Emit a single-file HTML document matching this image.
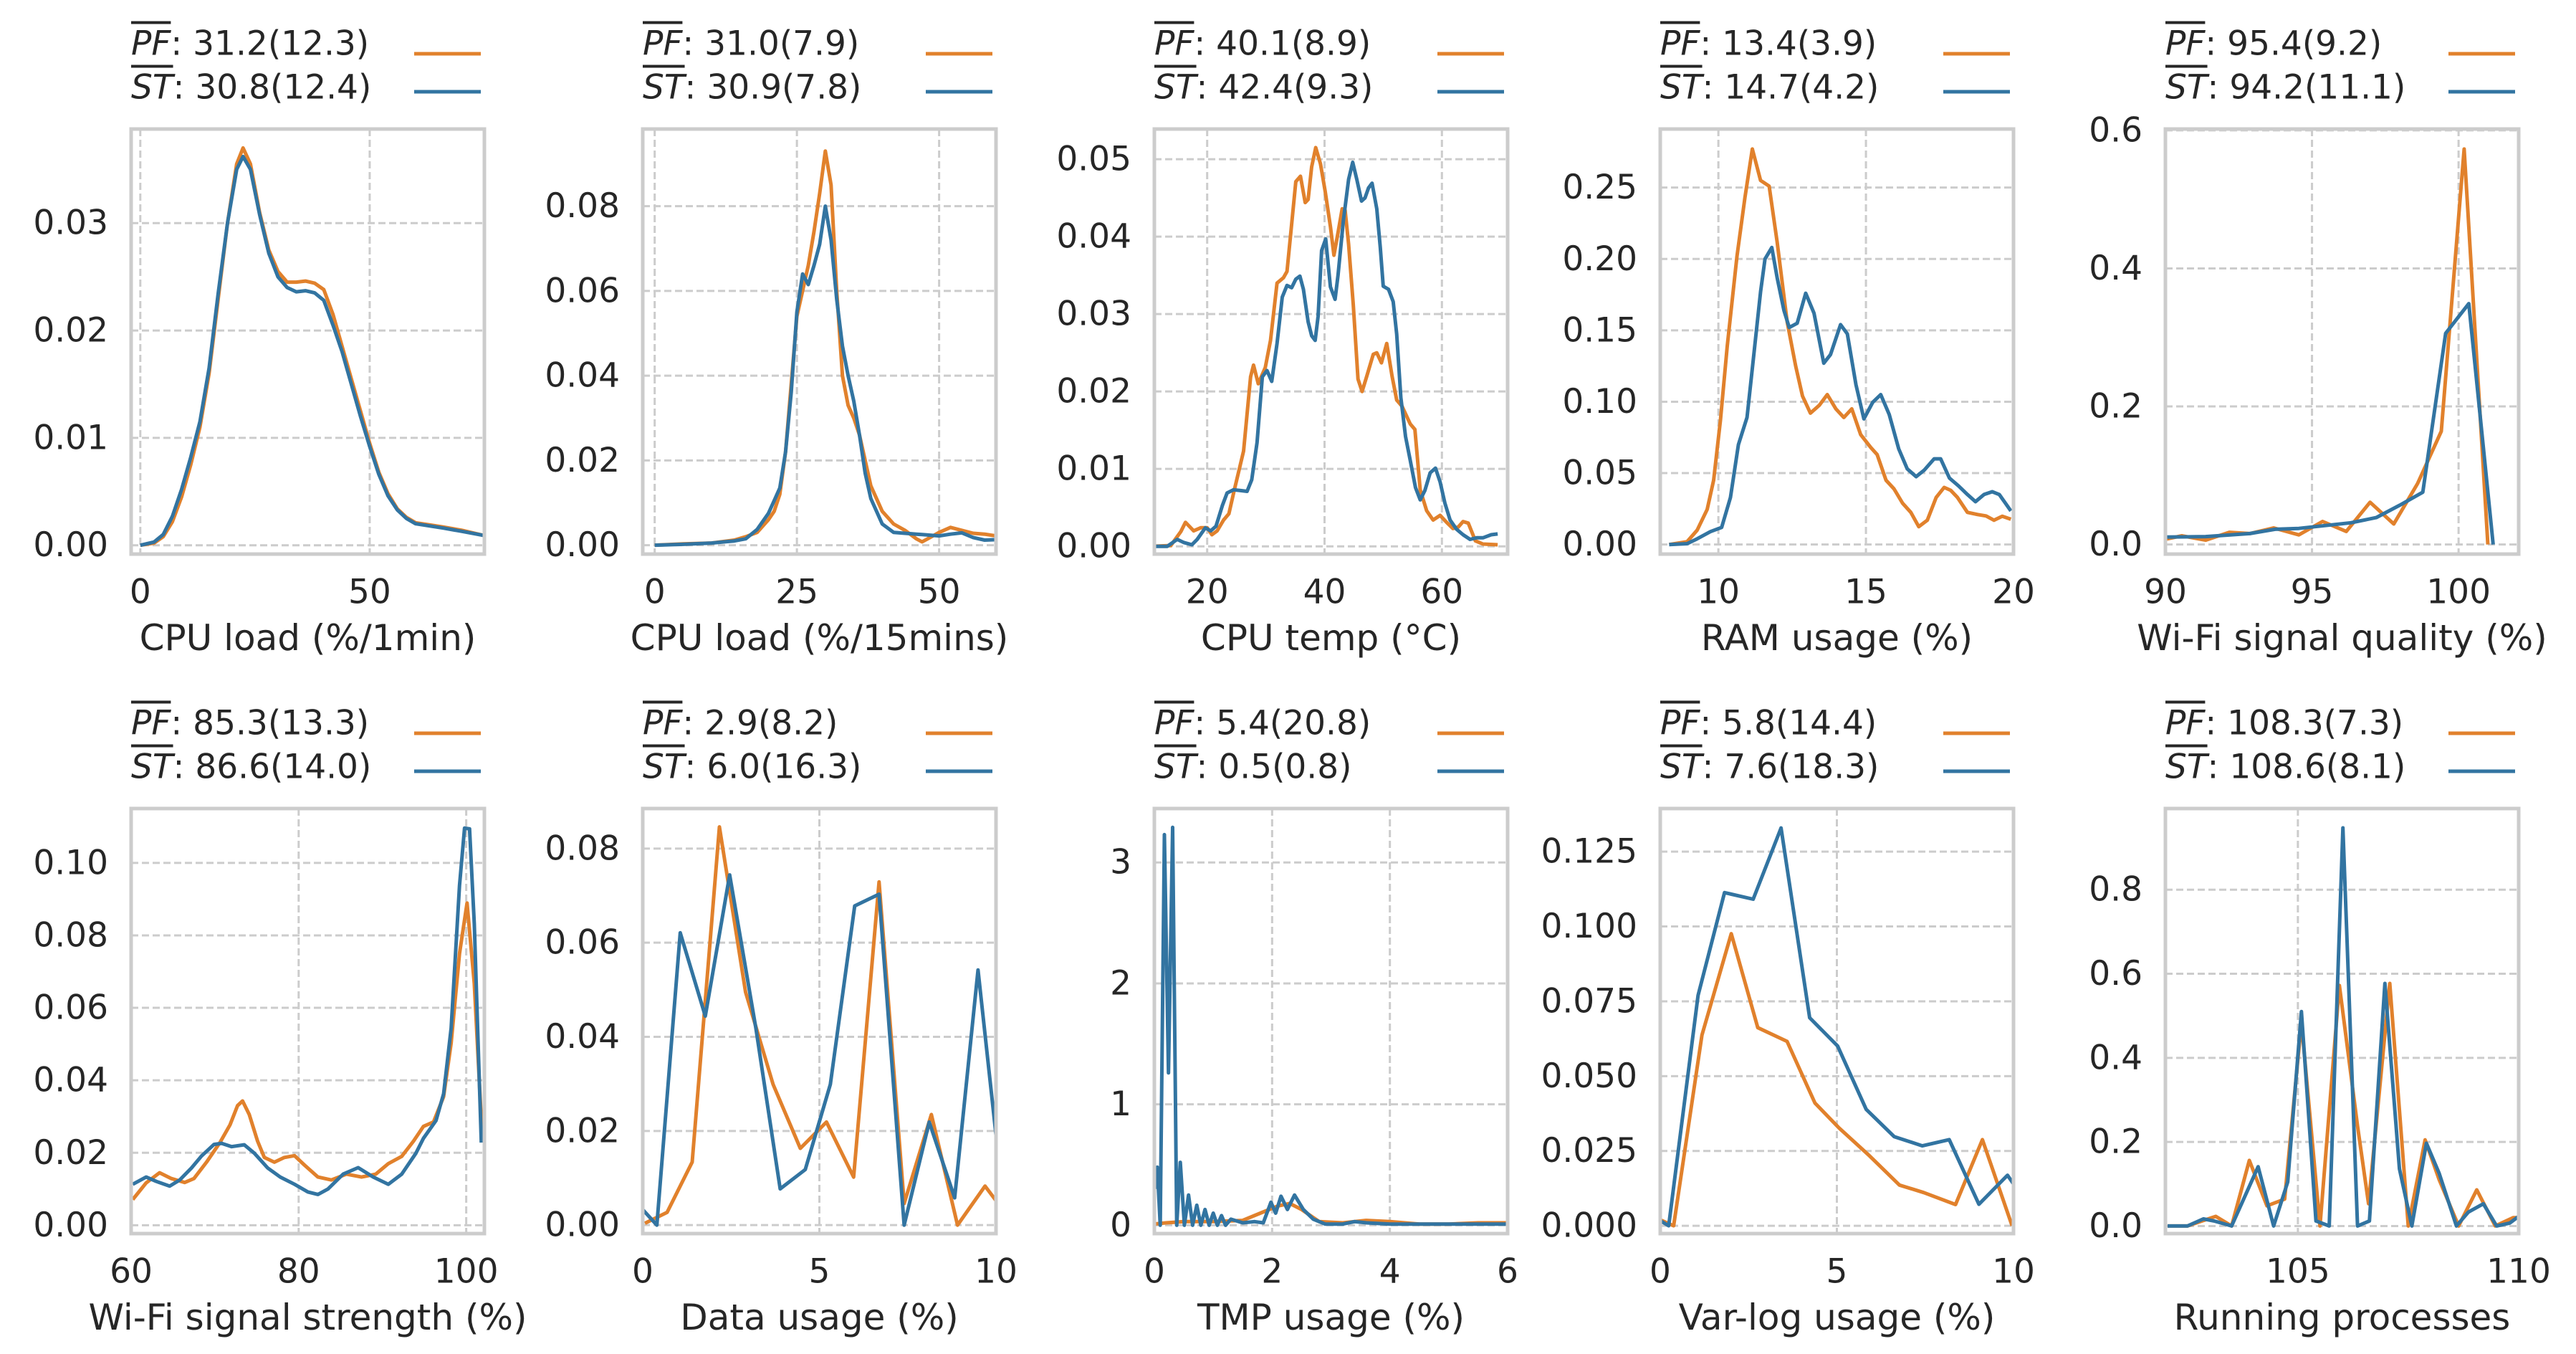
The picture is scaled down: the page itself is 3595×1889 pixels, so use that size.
<!DOCTYPE html>
<html><head><meta charset="utf-8"><style>
body{margin:0;background:#fff;}
#wrap{position:relative;width:3595px;height:1889px;overflow:hidden;font-family:"DejaVu Sans","Liberation Sans",sans-serif;color:#262626;}
svg{position:absolute;left:0;top:0;}
.leg{position:absolute;font-size:47px;line-height:1;white-space:nowrap;transform:translateY(-50%);}
.ov{text-decoration:overline;font-style:italic;}
</style></head><body>
<div id="wrap">
<svg id="fig" width="3595" height="1889" xmlns="http://www.w3.org/2000/svg"></svg>
</div>
<script>
const cpu1X = [0,3,5,7,9,11,13,15,17,19,21,22.4,24,26,28,30,32,34,36,38,40,42,44,46,48,50,52,54,56,58,60,63,66,70,75];
const cpu1PF = [0,0.0002,0.0008,0.0022,0.0045,0.0075,0.011,0.016,0.023,0.030,0.0355,0.037,0.0355,0.031,0.0275,0.0255,0.0245,0.0245,0.0246,0.0244,0.0238,0.0215,0.0185,0.0155,0.0125,0.0095,0.0068,0.0048,0.0034,0.0026,0.0021,0.0019,0.0017,0.0014,0.0009];
const cpu1ST = [0,0.0003,0.001,0.0027,0.0052,0.0082,0.0115,0.0165,0.0235,0.030,0.035,0.0362,0.035,0.0308,0.0272,0.025,0.0240,0.0236,0.0237,0.0235,0.0228,0.0205,0.018,0.015,0.012,0.0092,0.0066,0.0046,0.0033,0.0025,0.002,0.0018,0.0016,0.0013,0.0009];
const cpu15X = [0,5,10,14,16,18,20,21,22,23,24,25,26,27,28,29,30,31,32,33,34,35,36,37,38,40,42,44,46,47,48,50,52,54,56,58,60];
const cpu15PF = [0,0.0003,0.0005,0.0012,0.002,0.003,0.006,0.008,0.012,0.022,0.038,0.054,0.060,0.066,0.074,0.083,0.093,0.085,0.06,0.040,0.033,0.030,0.026,0.020,0.014,0.008,0.005,0.0035,0.0015,0.0008,0.0015,0.003,0.0042,0.0035,0.0028,0.0026,0.0022];
const cpu15ST = [0,0.0002,0.0005,0.001,0.0015,0.0037,0.0075,0.0105,0.0135,0.022,0.036,0.055,0.064,0.0615,0.066,0.071,0.080,0.072,0.058,0.047,0.040,0.034,0.026,0.017,0.011,0.005,0.003,0.0028,0.0026,0.0025,0.0024,0.0022,0.0026,0.0029,0.0018,0.0012,0.0013];
const tempPFX = [10.4,13.8,15.5,16.3,17.7,18.9,20,20.8,21.7,22.8,23.7,24.5,26.2,27.4,27.9,28.7,29.9,30.8,31.9,33.0,33.6,34.2,35.1,35.9,36.7,37.2,37.8,38.5,39.3,40.1,41.0,41.6,42.3,43.0,43.5,44.1,44.9,45.7,46.4,47.2,48.3,48.9,49.7,50.6,51.5,52.3,53.2,54.6,55.4,56.3,57.4,58.5,59.7,60.8,61.9,62.8,63.6,64.5,65.7,67.0,69.5];
const tempPFY = [0,0.0001,0.0019,0.0031,0.002,0.0024,0.0024,0.0015,0.002,0.0034,0.0042,0.0069,0.0123,0.0219,0.0234,0.021,0.0231,0.0266,0.034,0.0347,0.0355,0.0401,0.0471,0.0478,0.0444,0.0448,0.049,0.0515,0.0494,0.0459,0.0413,0.0376,0.0405,0.0436,0.0434,0.039,0.0312,0.0216,0.0200,0.0220,0.0248,0.025,0.0237,0.0262,0.022,0.0189,0.0181,0.0158,0.0151,0.0073,0.0046,0.0034,0.004,0.0031,0.0023,0.0025,0.0032,0.003,0.0007,0.0003,0.0002];
const tempSTX = [10.4,13.2,14.9,16.0,17.4,18.3,19.7,20.6,21.5,22.6,23.4,24.5,25.7,26.8,27.6,28.5,29.4,30.2,31.0,31.9,32.8,33.6,34.4,35.1,35.8,36.4,37.2,37.8,38.4,38.9,39.5,40.2,41.0,41.8,42.3,43.2,44.1,44.8,45.5,46.3,46.9,47.5,48.1,48.9,49.5,50.0,50.9,51.7,52.3,53.0,53.8,54.6,55.5,56.3,57.1,58.0,58.9,59.7,60.5,61.4,62.5,63.6,64.8,65.9,67.0,68.4,69.5];
const tempSTY = [0,0,0.0009,0.0005,0.0002,0.0009,0.0024,0.002,0.0026,0.0053,0.0069,0.0073,0.0072,0.0071,0.0086,0.0134,0.0219,0.0227,0.0213,0.0262,0.0322,0.0337,0.0334,0.0345,0.0349,0.0332,0.029,0.0272,0.0266,0.0297,0.0382,0.0397,0.0335,0.0319,0.035,0.042,0.0474,0.0496,0.0474,0.0446,0.045,0.0463,0.0469,0.0436,0.0386,0.0336,0.0332,0.0316,0.0274,0.0192,0.0142,0.0111,0.0076,0.006,0.0072,0.0095,0.0101,0.0083,0.0056,0.0034,0.0022,0.0015,0.0009,0.0011,0.0011,0.0015,0.0016];
const ramPFX = [8.33,8.94,9.28,9.62,9.84,10.07,10.3,10.63,10.9,11.15,11.43,11.72,11.99,12.33,12.62,12.85,13.12,13.42,13.69,13.98,14.25,14.52,14.82,15.16,15.38,15.68,15.95,16.24,16.52,16.79,17.08,17.38,17.65,17.87,18.1,18.44,18.78,19.07,19.34,19.62,19.91];
const ramPFY = [0,0.002,0.01,0.0246,0.045,0.087,0.139,0.202,0.243,0.277,0.255,0.251,0.212,0.156,0.125,0.104,0.092,0.0975,0.105,0.095,0.089,0.095,0.077,0.068,0.063,0.045,0.039,0.029,0.0225,0.0125,0.017,0.033,0.040,0.038,0.033,0.0225,0.021,0.02,0.017,0.0198,0.0177];
const ramSTX = [8.33,8.94,9.28,9.73,10.11,10.41,10.68,10.97,11.2,11.43,11.58,11.81,11.99,12.22,12.4,12.67,12.96,13.24,13.57,13.8,14.14,14.37,14.66,14.93,15.23,15.5,15.79,16.11,16.4,16.7,16.97,17.31,17.53,17.83,18.14,18.44,18.71,19.0,19.28,19.52,19.91];
const ramSTY = [0,0.0006,0.004,0.009,0.012,0.033,0.070,0.089,0.133,0.177,0.2,0.208,0.187,0.164,0.152,0.155,0.176,0.162,0.127,0.133,0.154,0.1475,0.112,0.088,0.0996,0.105,0.091,0.067,0.053,0.0475,0.052,0.06,0.06,0.0465,0.041,0.035,0.030,0.035,0.037,0.035,0.0235];
const wqPFX = [90,90.56,91.37,92.18,92.88,93.69,94.55,95.36,96.17,96.98,97.79,98.6,99.41,100.19,101.0];
const wqPFY = [0.0076,0.0126,0.0063,0.0177,0.0158,0.024,0.0139,0.0334,0.0189,0.0612,0.0297,0.0883,0.164,0.573,0];
const wqSTX = [90,91.37,92.88,93.74,94.55,96.33,97.19,97.99,98.78,99.56,100.35,101.18];
const wqSTY = [0.0107,0.0114,0.0158,0.022,0.0233,0.0315,0.039,0.0568,0.0757,0.306,0.349,0];
const wsPFX = [60.2,61.8,63.4,64.8,66.4,67.5,69.0,70.6,71.8,72.7,73.3,74.1,75.1,75.9,77.1,78.3,79.5,80.7,82.3,83.9,85.7,87.5,89.2,90.7,92.3,93.7,94.9,96.1,97.3,98.2,99.2,100.1,100.96,101.9];
const wsPFY = [0.0071,0.0117,0.0145,0.0129,0.0118,0.0129,0.0174,0.0228,0.0277,0.033,0.0343,0.0306,0.0232,0.0187,0.0174,0.0187,0.0192,0.0166,0.0133,0.0125,0.0141,0.0133,0.0141,0.017,0.019,0.0232,0.0273,0.0285,0.0355,0.0503,0.075,0.0889,0.0667,0.0248];
const wsSTX = [60.2,61.8,63.0,64.6,65.8,67.2,68.4,69.9,70.8,72.0,73.5,74.7,76.3,77.8,79.5,81.1,82.3,83.5,85.3,87.1,88.9,90.7,92.3,94.0,94.9,96.4,97.3,98.2,99.2,99.8,100.4,100.96,101.8];
const wsSTY = [0.0113,0.0133,0.0121,0.0108,0.0125,0.0158,0.0191,0.0223,0.0226,0.0217,0.0222,0.0199,0.0158,0.0133,0.0113,0.0092,0.0085,0.01,0.0141,0.0159,0.0133,0.0113,0.0141,0.0199,0.024,0.0289,0.0363,0.0544,0.0938,0.1096,0.1094,0.0832,0.0228];
const duPFX = [0.06,0.69,1.4,2.17,2.91,3.69,4.46,5.2,5.97,6.69,7.4,8.17,8.91,9.69,10];
const duPFY = [0.0004,0.0027,0.0134,0.0846,0.0495,0.0299,0.0163,0.0219,0.0102,0.0729,0.0046,0.0235,0,0.0083,0.0052];
const duSTX = [0,0.4,1.06,1.77,2.46,3.2,3.89,4.6,5.31,6.0,6.69,7.4,8.11,8.83,9.49,10];
const duSTY = [0.0033,0,0.0621,0.0444,0.0744,0.0419,0.0077,0.0118,0.0299,0.0678,0.0703,0,0.0219,0.0058,0.0542,0.0191];
const tmpPFX = [0,0.2,0.5,1.0,1.5,1.8,2.1,2.3,2.5,2.8,3.2,3.6,4.0,4.5,5.0,5.5,6.0];
const tmpPFY = [0.01,0.02,0.03,0.03,0.04,0.1,0.16,0.18,0.13,0.03,0.02,0.04,0.03,0.01,0.01,0.02,0.02];
const tmpSTX = [0.02,0.05,0.1,0.17,0.24,0.31,0.38,0.44,0.51,0.58,0.65,0.72,0.79,0.86,0.93,1.0,1.07,1.14,1.21,1.3,1.5,1.7,1.85,1.98,2.06,2.15,2.26,2.38,2.53,2.7,2.9,3.2,3.4,3.6,4.0,4.5,5.0,6.0];
const tmpSTY = [0.3,0.48,0,3.23,1.26,3.29,0,0.52,0,0.25,0,0.165,0,0.13,0,0.1,0,0.08,0,0.05,0.02,0.03,0.02,0.19,0.1,0.24,0.13,0.25,0.13,0.05,0.01,0.01,0.03,0.02,0.01,0.01,0.01,0.01];
const vlPFX = [0,0.38,1.18,2.01,2.76,3.59,4.38,5.06,5.92,6.77,7.46,8.36,9.12,9.96];
const vlPFY = [0.002,0,0.0637,0.0976,0.0662,0.0616,0.041,0.0327,0.0234,0.0136,0.0111,0.0071,0.0288,0];
const vlSTX = [0,0.24,1.07,1.82,2.63,3.42,4.23,5.02,5.83,6.62,7.42,8.18,9.02,9.83,10];
const vlSTY = [0.0017,0,0.077,0.1113,0.1091,0.1329,0.0695,0.0601,0.0389,0.0298,0.0267,0.0288,0.0072,0.0169,0.014];
const rpPFX = [102.05,102.5,102.83,103.14,103.5,103.9,104.3,104.7,105.08,105.5,105.94,106.35,106.6,107.08,107.5,107.88,108.2,108.64,109.05,109.47,109.88,110];
const rpPFY = [0,0,0.012,0.023,0,0.156,0.048,0.064,0.485,0,0.572,0.238,0.053,0.577,0,0.205,0.11,0,0.086,0,0.02,0.02];
const rpSTX = [102.05,102.5,102.86,103.1,103.5,104.1,104.45,104.77,105.08,105.41,105.71,106.02,106.35,106.62,106.97,107.3,107.58,107.91,108.2,108.59,108.86,109.2,109.5,109.8,110];
const rpSTY = [0,0,0.017,0.012,0,0.141,0,0.105,0.51,0.012,0,0.947,0,0.012,0.577,0.136,0,0.197,0.125,0,0.033,0.053,0,0.007,0.023];
const yt1 = ["0.00","0.01","0.02","0.03"], yt1v=[0,0.01,0.02,0.03];
const yt2 = ["0.00","0.02","0.04","0.06","0.08"], yt2v=[0,0.02,0.04,0.06,0.08];
const yt3 = ["0.00","0.01","0.02","0.03","0.04","0.05"], yt3v=[0,0.01,0.02,0.03,0.04,0.05];
const yt4 = ["0.00","0.05","0.10","0.15","0.20","0.25"], yt4v=[0,0.05,0.1,0.15,0.2,0.25];
const yt5 = ["0.0","0.2","0.4","0.6"], yt5v=[0,0.2,0.4,0.6];
const yt6 = ["0.00","0.02","0.04","0.06","0.08","0.10"], yt6v=[0,0.02,0.04,0.06,0.08,0.1];
const yt7 = ["0.00","0.02","0.04","0.06","0.08"], yt7v=[0,0.02,0.04,0.06,0.08];
const yt8 = ["0","1","2","3"], yt8v=[0,1,2,3];
const yt9 = ["0.000","0.025","0.050","0.075","0.100","0.125"], yt9v=[0,0.025,0.05,0.075,0.1,0.125];
const yt10 = ["0.0","0.2","0.4","0.6","0.8"], yt10v=[0,0.2,0.4,0.6,0.8];

const ORANGE="#e1812c", BLUE="#3274a1", GRID="#cccccc";
const W=493, H=593;
const panels = [
 {n:"cpu-load-1min",L:183,T:180,x0:-2,x1:75,y0:-0.00082,y1:0.03876,xt:[0,50],yt:yt1,ytv:yt1v,xl:"CPU load (%/1min)",pf:"31.2(12.3)",st:"30.8(12.4)",px:cpu1X,py:cpu1PF,sx:cpu1X,sy:cpu1ST},
 {n:"cpu-load-15mins",L:897,T:180,x0:-2.1,x1:60,y0:-0.0021,y1:0.0982,xt:[0,25,50],yt:yt2,ytv:yt2v,xl:"CPU load (%/15mins)",pf:"31.0(7.9)",st:"30.9(7.8)",px:cpu15X,py:cpu15PF,sx:cpu15X,sy:cpu15ST},
 {n:"cpu-temp",L:1611,T:180,x0:11,x1:71.2,y0:-0.001,y1:0.0539,xt:[20,40,60],yt:yt3,ytv:yt3v,xl:"CPU temp (\u00b0C)",pf:"40.1(8.9)",st:"42.4(9.3)",px:tempPFX,py:tempPFY,sx:tempSTX,sy:tempSTY},
 {n:"ram-usage",L:2317,T:180,x0:8.03,x1:20,y0:-0.0067,y1:0.291,xt:[10,15,20],yt:yt4,ytv:yt4v,xl:"RAM usage (%)",pf:"13.4(3.9)",st:"14.7(4.2)",px:ramPFX,py:ramPFY,sx:ramSTX,sy:ramSTY},
 {n:"wifi-quality",L:3022,T:180,x0:90,x1:102.05,y0:-0.0139,y1:0.602,xt:[90,95,100],yt:yt5,ytv:yt5v,xl:"Wi-Fi signal quality (%)",pf:"95.4(9.2)",st:"94.2(11.1)",px:wqPFX,py:wqPFY,sx:wqSTX,sy:wqSTY},
 {n:"wifi-strength",L:183,T:1128,x0:60,x1:102.17,y0:-0.0023,y1:0.115,xt:[60,80,100],yt:yt6,ytv:yt6v,xl:"Wi-Fi signal strength (%)",pf:"85.3(13.3)",st:"86.6(14.0)",px:wsPFX,py:wsPFY,sx:wsSTX,sy:wsSTY},
 {n:"data-usage",L:897,T:1128,x0:0,x1:10,y0:-0.0018,y1:0.0885,xt:[0,5,10],yt:yt7,ytv:yt7v,xl:"Data usage (%)",pf:"2.9(8.2)",st:"6.0(16.3)",px:duPFX,py:duPFY,sx:duSTX,sy:duSTY},
 {n:"tmp-usage",L:1611,T:1128,x0:0,x1:6,y0:-0.069,y1:3.446,xt:[0,2,4,6],yt:yt8,ytv:yt8v,xl:"TMP usage (%)",pf:"5.4(20.8)",st:"0.5(0.8)",px:tmpPFX,py:tmpPFY,sx:tmpSTX,sy:tmpSTY},
 {n:"varlog-usage",L:2317,T:1128,x0:0,x1:10,y0:-0.0026,y1:0.1394,xt:[0,5,10],yt:yt9,ytv:yt9v,xl:"Var-log usage (%)",pf:"5.8(14.4)",st:"7.6(18.3)",px:vlPFX,py:vlPFY,sx:vlSTX,sy:vlSTY},
 {n:"running-processes",L:3022,T:1128,x0:102,x1:110,y0:-0.018,y1:0.993,xt:[105,110],yt:yt10,ytv:yt10v,xl:"Running processes",pf:"108.3(7.3)",st:"108.6(8.1)",px:rpPFX,py:rpPFY,sx:rpSTX,sy:rpSTY}
];
const NS="http://www.w3.org/2000/svg";
const svg=document.getElementById('fig');
const wrap=document.getElementById('wrap');
function mk(tag,attrs,parent){const e=document.createElementNS(NS,tag);for(const k in attrs)e.setAttribute(k,attrs[k]);(parent||svg).appendChild(e);return e;}
panels.forEach((p,i)=>{
  const sxf=x=>p.L+(x-p.x0)/(p.x1-p.x0)*W;
  const syf=y=>p.T+(p.y1-y)/(p.y1-p.y0)*H;
  const g=mk('g',{});
  
  
  const cp=mk('clipPath',{id:'cp'+i},g);
  mk('rect',{x:p.L,y:p.T,width:W,height:H},cp);
  p.ytv.forEach((v,j)=>{
    const yy=syf(v);
    const gl=mk('line',{x1:p.L,x2:p.L+W,y1:yy,y2:yy,stroke:GRID,'stroke-width':3,'stroke-dasharray':'10,5'},g);
    
    
    const t=mk('text',{x:p.L-32,y:yy,'text-anchor':'end','dominant-baseline':'central','font-size':47,fill:'#262626'},g);
    t.textContent=p.yt[j];
    
    
  });
  p.xt.forEach(v=>{
    const xx=sxf(v);
    const gl=mk('line',{x1:xx,x2:xx,y1:p.T,y2:p.T+H,stroke:GRID,'stroke-width':3,'stroke-dasharray':'10,5'},g);
    
    
    const t=mk('text',{x:xx,y:p.T+H+53,'text-anchor':'middle','dominant-baseline':'central','font-size':47,fill:'#262626'},g);
    t.textContent=String(v);
    
    
  });
  const xl=mk('text',{x:p.L+W/2,y:p.T+H+117,'text-anchor':'middle','dominant-baseline':'central','font-size':50,fill:'#262626'},g);
  xl.textContent=p.xl;
  
  
  const mkLine=(xs,ys,col,name)=>{
    const d=xs.map((x,k)=>(k?'L':'M')+sxf(x).toFixed(1)+','+syf(ys[k]).toFixed(1)).join('');
    const pth=mk('path',{d:d,fill:'none',stroke:col,'stroke-width':5,'stroke-linejoin':'round','clip-path':'url(#cp'+i+')'},g);
    
    
  };
  mkLine(p.px,p.py,ORANGE,'pf-line');
  mkLine(p.sx,p.sy,BLUE,'st-line');
  const box=mk('rect',{x:p.L,y:p.T,width:W,height:H,fill:'none',stroke:GRID,'stroke-width':5},g);
  
  
  const l1=mk('line',{x1:p.L+395,x2:p.L+488,y1:p.T-105,y2:p.T-105,stroke:ORANGE,'stroke-width':5},g);
  
  
  const l2=mk('line',{x1:p.L+395,x2:p.L+488,y1:p.T-52,y2:p.T-52,stroke:BLUE,'stroke-width':5},g);
  
  
  const d1=document.createElement('div');
  d1.className='leg';d1.style.left=p.L+'px';d1.style.top=(p.T-119)+'px';
  d1.innerHTML='<span class="ov">PF</span>: '+p.pf;
  
  
  wrap.appendChild(d1);
  const d2=document.createElement('div');
  d2.className='leg';d2.style.left=p.L+'px';d2.style.top=(p.T-58)+'px';
  d2.innerHTML='<span class="ov">ST</span>: '+p.st;
  
  
  wrap.appendChild(d2);
});
</script>
</body></html>
